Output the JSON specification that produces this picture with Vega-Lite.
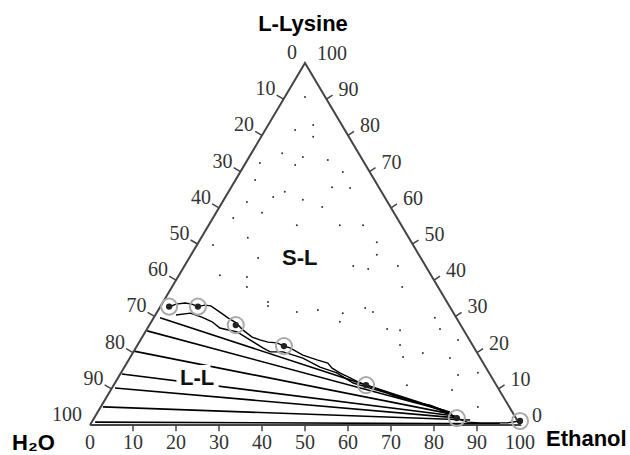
{
  "$schema": "https://vega.github.io/schema/vega-lite/v6.json",
  "width": 630,
  "height": 455,
  "autosize": {"type": "fit", "contains": "padding"},
  "padding": 0,
  "background": "white",
  "config": {"view": {"stroke": null}},
  "datasets": {
    "tri": [
      {"i": 0, "x": 0, "y": 0},
      {"i": 1, "x": 100, "y": 0},
      {"i": 2, "x": 50, "y": 100},
      {"i": 3, "x": 0, "y": 0}
    ],
    "ticks": [
      {"x": 45, "y": 90, "x2": 43.4, "y2": 91.1},
      {"x": 40, "y": 80, "x2": 38.4, "y2": 81.1},
      {"x": 35, "y": 70, "x2": 33.4, "y2": 71.1},
      {"x": 30, "y": 60, "x2": 28.4, "y2": 61.1},
      {"x": 25, "y": 50, "x2": 23.4, "y2": 51.1},
      {"x": 20, "y": 40, "x2": 18.4, "y2": 41.1},
      {"x": 15, "y": 30, "x2": 13.4, "y2": 31.1},
      {"x": 10, "y": 20, "x2": 8.4, "y2": 21.1},
      {"x": 5, "y": 10, "x2": 3.4, "y2": 11.1},
      {"x": 95, "y": 10, "x2": 96.4, "y2": 11.1},
      {"x": 90, "y": 20, "x2": 91.4, "y2": 21.1},
      {"x": 85, "y": 30, "x2": 86.4, "y2": 31.1},
      {"x": 80, "y": 40, "x2": 81.4, "y2": 41.1},
      {"x": 75, "y": 50, "x2": 76.4, "y2": 51.1},
      {"x": 70, "y": 60, "x2": 71.4, "y2": 61.1},
      {"x": 65, "y": 70, "x2": 66.4, "y2": 71.1},
      {"x": 60, "y": 80, "x2": 61.4, "y2": 81.1},
      {"x": 55, "y": 90, "x2": 56.4, "y2": 91.1},
      {"x": 10, "y": 0, "x2": 10, "y2": -1.7},
      {"x": 20, "y": 0, "x2": 20, "y2": -1.7},
      {"x": 30, "y": 0, "x2": 30, "y2": -1.7},
      {"x": 40, "y": 0, "x2": 40, "y2": -1.7},
      {"x": 50, "y": 0, "x2": 50, "y2": -1.7},
      {"x": 60, "y": 0, "x2": 60, "y2": -1.7},
      {"x": 70, "y": 0, "x2": 70, "y2": -1.7},
      {"x": 80, "y": 0, "x2": 80, "y2": -1.7},
      {"x": 90, "y": 0, "x2": 90, "y2": -1.7}
    ],
    "ties": [
      {"x": 16.3, "y": 29.6, "x2": 82.6, "y2": 3.9},
      {"x": 13.3, "y": 26.0, "x2": 83.7, "y2": 3.6},
      {"x": 10.2, "y": 20.4, "x2": 84.2, "y2": 3.0},
      {"x": 7.4, "y": 14.1, "x2": 84.9, "y2": 2.5},
      {"x": 5.8, "y": 10.2, "x2": 86.0, "y2": 1.9},
      {"x": 3.0, "y": 5.0, "x2": 88.4, "y2": 1.4},
      {"x": 1.2, "y": 0.8, "x2": 95.3, "y2": 0.3}
    ],
    "curves": [
      {"c": "A", "i": 0, "x": 18.4, "y": 32.6},
      {"c": "A", "i": 1, "x": 20.0, "y": 33.4},
      {"c": "A", "i": 2, "x": 22.1, "y": 33.7},
      {"c": "A", "i": 3, "x": 23.7, "y": 33.4},
      {"c": "A", "i": 4, "x": 25.1, "y": 32.7},
      {"c": "A", "i": 5, "x": 26.7, "y": 33.1},
      {"c": "A", "i": 6, "x": 28.1, "y": 32.9},
      {"c": "A", "i": 7, "x": 30.2, "y": 31.2},
      {"c": "A", "i": 8, "x": 32.1, "y": 29.6},
      {"c": "A", "i": 9, "x": 34.0, "y": 28.2},
      {"c": "A", "i": 10, "x": 35.6, "y": 26.2},
      {"c": "A", "i": 11, "x": 37.7, "y": 24.3},
      {"c": "A", "i": 12, "x": 39.5, "y": 23.5},
      {"c": "A", "i": 13, "x": 41.4, "y": 22.9},
      {"c": "A", "i": 14, "x": 43.5, "y": 22.7},
      {"c": "A", "i": 15, "x": 45.1, "y": 21.8},
      {"c": "A", "i": 16, "x": 46.5, "y": 21.3},
      {"c": "A", "i": 17, "x": 49.5, "y": 19.3},
      {"c": "A", "i": 18, "x": 52.8, "y": 18.0},
      {"c": "A", "i": 19, "x": 55.3, "y": 17.1},
      {"c": "A", "i": 20, "x": 56.3, "y": 15.7},
      {"c": "A", "i": 21, "x": 58.1, "y": 14.4},
      {"c": "A", "i": 22, "x": 60.5, "y": 13.0},
      {"c": "A", "i": 23, "x": 62.3, "y": 11.9},
      {"c": "A", "i": 24, "x": 64.2, "y": 11.0},
      {"c": "A", "i": 25, "x": 67.4, "y": 9.7},
      {"c": "A", "i": 26, "x": 71.4, "y": 7.7},
      {"c": "A", "i": 27, "x": 75.1, "y": 6.4},
      {"c": "A", "i": 28, "x": 79.1, "y": 5.5},
      {"c": "A", "i": 29, "x": 83.0, "y": 3.6},
      {"c": "A", "i": 30, "x": 85.3, "y": 1.9},
      {"c": "A", "i": 31, "x": 87.7, "y": 0.8},
      {"c": "A", "i": 32, "x": 90.7, "y": 0.6},
      {"c": "A", "i": 33, "x": 97.0, "y": 0.6},
      {"c": "A", "i": 34, "x": 100, "y": 1.1},
      {"c": "B", "i": 0, "x": 20.0, "y": 30.4},
      {"c": "B", "i": 1, "x": 23.3, "y": 30.9},
      {"c": "B", "i": 2, "x": 26.0, "y": 29.8},
      {"c": "B", "i": 3, "x": 28.4, "y": 28.5},
      {"c": "B", "i": 4, "x": 30.2, "y": 26.8},
      {"c": "B", "i": 5, "x": 34.2, "y": 25.7},
      {"c": "B", "i": 6, "x": 37.2, "y": 23.5},
      {"c": "B", "i": 7, "x": 40.2, "y": 21.3},
      {"c": "B", "i": 8, "x": 41.9, "y": 20.2},
      {"c": "B", "i": 9, "x": 44.9, "y": 20.2},
      {"c": "B", "i": 10, "x": 49.5, "y": 18.5},
      {"c": "B", "i": 11, "x": 53.5, "y": 16.0},
      {"c": "B", "i": 12, "x": 57.4, "y": 14.4},
      {"c": "B", "i": 13, "x": 61.2, "y": 11.6},
      {"c": "B", "i": 14, "x": 65.1, "y": 10.2},
      {"c": "B", "i": 15, "x": 69.1, "y": 8.8},
      {"c": "B", "i": 16, "x": 72.8, "y": 7.5},
      {"c": "B", "i": 17, "x": 76.7, "y": 6.1},
      {"c": "B", "i": 18, "x": 81.4, "y": 4.1},
      {"c": "B", "i": 19, "x": 85.3, "y": 1.9}
    ],
    "dots": [
      {"x": 50.0, "y": 90.6}, {"x": 51.9, "y": 82.9}, {"x": 47.7, "y": 81.5}, {"x": 51.9, "y": 79.6},
      {"x": 44.7, "y": 75.1}, {"x": 49.5, "y": 74.0}, {"x": 39.5, "y": 72.4}, {"x": 47.7, "y": 71.8},
      {"x": 38.4, "y": 67.7}, {"x": 45.3, "y": 64.4}, {"x": 42.6, "y": 63.0}, {"x": 36.5, "y": 61.6},
      {"x": 49.5, "y": 62.2}, {"x": 40.0, "y": 58.6}, {"x": 33.3, "y": 57.2}, {"x": 48.1, "y": 55.2},
      {"x": 55.3, "y": 73.2}, {"x": 58.8, "y": 69.9}, {"x": 56.3, "y": 65.7}, {"x": 60.5, "y": 65.5},
      {"x": 54.0, "y": 60.2}, {"x": 58.1, "y": 55.2}, {"x": 63.5, "y": 55.2}, {"x": 28.6, "y": 49.7},
      {"x": 36.7, "y": 51.7}, {"x": 39.1, "y": 46.1}, {"x": 30.2, "y": 41.4}, {"x": 36.5, "y": 40.9},
      {"x": 36.5, "y": 38.1}, {"x": 41.4, "y": 34.0}, {"x": 41.4, "y": 32.9}, {"x": 48.1, "y": 31.2},
      {"x": 66.7, "y": 47.0}, {"x": 53.0, "y": 44.8}, {"x": 61.2, "y": 43.9}, {"x": 64.7, "y": 43.1},
      {"x": 71.6, "y": 43.9}, {"x": 72.6, "y": 38.1}, {"x": 53.0, "y": 31.8}, {"x": 64.0, "y": 32.3},
      {"x": 65.8, "y": 31.2}, {"x": 58.8, "y": 30.9}, {"x": 58.1, "y": 28.5}, {"x": 69.1, "y": 26.5},
      {"x": 72.1, "y": 26.2}, {"x": 80.2, "y": 29.6}, {"x": 81.4, "y": 26.5}, {"x": 72.1, "y": 22.1},
      {"x": 85.6, "y": 23.5}, {"x": 72.8, "y": 18.8}, {"x": 77.4, "y": 19.9}, {"x": 83.7, "y": 18.5},
      {"x": 85.6, "y": 13.8}, {"x": 90.2, "y": 14.4}, {"x": 84.2, "y": 9.7}, {"x": 73.7, "y": 11.0},
      {"x": 90.2, "y": 5.0}, {"x": 66.7, "y": 50.5}
    ],
    "circles": [
      {"x": 18.4, "y": 32.7}, {"x": 25.1, "y": 32.7}, {"x": 33.9, "y": 27.6},
      {"x": 45.1, "y": 21.8}, {"x": 64.2, "y": 11.0}, {"x": 85.3, "y": 1.9}, {"x": 100, "y": 1.1}
    ],
    "lblL": [
      {"t": "0", "x": 50, "y": 100}, {"t": "10", "x": 45, "y": 90}, {"t": "20", "x": 40, "y": 80},
      {"t": "30", "x": 35, "y": 70}, {"t": "40", "x": 30, "y": 60}, {"t": "50", "x": 25, "y": 50},
      {"t": "60", "x": 20, "y": 40}, {"t": "70", "x": 15, "y": 30}, {"t": "80", "x": 10, "y": 20},
      {"t": "90", "x": 5, "y": 10}, {"t": "100", "x": 0, "y": 0}
    ],
    "lblR": [
      {"t": "0", "x": 100, "y": 0}, {"t": "10", "x": 95, "y": 10}, {"t": "20", "x": 90, "y": 20},
      {"t": "30", "x": 85, "y": 30}, {"t": "40", "x": 80, "y": 40}, {"t": "50", "x": 75, "y": 50},
      {"t": "60", "x": 70, "y": 60}, {"t": "70", "x": 65, "y": 70}, {"t": "80", "x": 60, "y": 80},
      {"t": "90", "x": 55, "y": 90}, {"t": "100", "x": 50, "y": 100}
    ],
    "lblB": [
      {"t": "0", "x": 0, "y": 0}, {"t": "10", "x": 10, "y": 0}, {"t": "20", "x": 20, "y": 0},
      {"t": "30", "x": 30, "y": 0}, {"t": "40", "x": 40, "y": 0}, {"t": "50", "x": 50, "y": 0},
      {"t": "60", "x": 60, "y": 0}, {"t": "70", "x": 70, "y": 0}, {"t": "80", "x": 80, "y": 0},
      {"t": "90", "x": 90, "y": 0}, {"t": "100", "x": 100, "y": 0}
    ],
    "regions": [
      {"t": "S-L", "x": 48.8, "y": 46.1},
      {"t": "L-L", "x": 24.9, "y": 13.0}
    ]
  },
  "encoding": {
    "x": {"field": "x", "type": "quantitative", "axis": null, "scale": {"domain": [-20.93, 125.58], "nice": false, "zero": false}},
    "y": {"field": "y", "type": "quantitative", "axis": null, "scale": {"domain": [-8.287, 117.4], "nice": false, "zero": false}}
  },
  "layer": [
    {
      "data": {"name": "dots"},
      "mark": {"type": "point", "filled": true, "shape": "circle", "size": 4, "color": "#333", "opacity": 1}
    },
    {
      "data": {"name": "ties"},
      "mark": {"type": "rule", "color": "#000", "strokeWidth": 1.6},
      "encoding": {"x2": {"field": "x2"}, "y2": {"field": "y2"}}
    },
    {
      "data": {"name": "curves"},
      "mark": {"type": "line", "color": "#000", "strokeWidth": 1.4},
      "encoding": {"detail": {"field": "c"}, "order": {"field": "i", "type": "quantitative"}}
    },
    {
      "data": {"name": "regions"},
      "mark": {"type": "text", "font": "Liberation Sans", "fontWeight": "bold", "fontSize": 22, "align": "center", "baseline": "middle", "fill": "white", "stroke": "white", "strokeWidth": 10},
      "encoding": {"text": {"field": "t"}}
    },
    {
      "data": {"name": "regions"},
      "mark": {"type": "text", "font": "Liberation Sans", "fontWeight": "bold", "fontSize": 22, "align": "center", "baseline": "middle", "color": "#111"},
      "encoding": {"text": {"field": "t"}}
    },
    {
      "data": {"name": "tri"},
      "mark": {"type": "line", "color": "#444", "strokeWidth": 2},
      "encoding": {"order": {"field": "i", "type": "quantitative"}}
    },
    {
      "data": {"name": "ticks"},
      "mark": {"type": "rule", "color": "#444", "strokeWidth": 1.5},
      "encoding": {"x2": {"field": "x2"}, "y2": {"field": "y2"}}
    },
    {
      "data": {"name": "circles"},
      "mark": {"type": "point", "shape": "circle", "filled": false, "size": 260, "stroke": "#aaa", "strokeWidth": 2, "opacity": 1}
    },
    {
      "data": {"name": "circles"},
      "mark": {"type": "point", "shape": "circle", "filled": true, "size": 40, "color": "#222", "opacity": 1}
    },
    {
      "data": {"name": "lblL"},
      "mark": {"type": "text", "font": "Liberation Serif", "fontSize": 20, "align": "right", "baseline": "middle", "dx": -8, "dy": -10, "color": "#333"},
      "encoding": {"text": {"field": "t"}}
    },
    {
      "data": {"name": "lblR"},
      "mark": {"type": "text", "font": "Liberation Serif", "fontSize": 20, "align": "left", "baseline": "middle", "dx": 12, "dy": -9, "color": "#333"},
      "encoding": {"text": {"field": "t"}}
    },
    {
      "data": {"name": "lblB"},
      "mark": {"type": "text", "font": "Liberation Serif", "fontSize": 20, "align": "center", "baseline": "middle", "dy": 18, "color": "#333"},
      "encoding": {"text": {"field": "t"}}
    },
    {
      "data": {"values": [{"t": "L-Lysine", "x": 50, "y": 100}]},
      "mark": {"type": "text", "font": "Liberation Sans", "fontWeight": "bold", "fontSize": 22, "align": "center", "baseline": "middle", "dx": -2, "dy": -39, "color": "#000"},
      "encoding": {"text": {"field": "t"}}
    },
    {
      "data": {"values": [{"t": "H₂O", "x": 0, "y": 0}]},
      "mark": {"type": "text", "font": "Liberation Sans", "fontWeight": "bold", "fontSize": 22, "align": "left", "baseline": "middle", "dx": -78, "dy": 18, "color": "#000"},
      "encoding": {"text": {"field": "t"}}
    },
    {
      "data": {"values": [{"t": "Ethanol", "x": 100, "y": 0}]},
      "mark": {"type": "text", "font": "Liberation Sans", "fontWeight": "bold", "fontSize": 22, "align": "left", "baseline": "middle", "dx": 26, "dy": 14, "color": "#000"},
      "encoding": {"text": {"field": "t"}}
    }
  ]
}
